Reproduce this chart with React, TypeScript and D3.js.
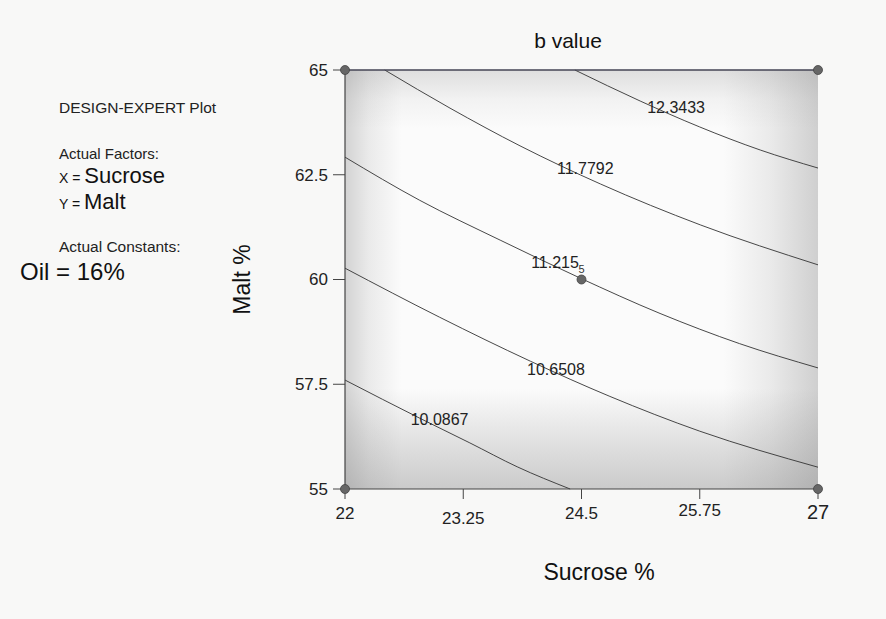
import React from "react";
import * as d3 from "d3";

// axis setup
const xDomain = [22, 27];
const yDomain = [55, 65];
const xTicks = [22, 23.25, 24.5, 25.75, 27];
const yTicks = [55, 57.5, 60, 62.5, 65];

// contour levels
const levels = ["12.3433", "11.7792", "11.215", "10.6508", "10.0867"];
const contour12_3433 = [[24.43, 65], [25.12, 64.26], [25.75, 63.64], [26.39, 63.09], [27, 62.66]];
const contour11_7792 = [[22.42, 65], [23.11, 64.09], [23.85, 63.19], [24.7, 62.28], [25.76, 61.3], [27, 60.35]];
const contour11_215 = [[22, 62.92], [22.79, 61.89], [23.64, 60.94], [24.48, 60.04], [25.33, 59.19], [26.17, 58.47], [27, 57.89]];
const contour10_6508 = [[22, 60.27], [23, 59.1], [23.96, 58.05], [24.8, 57.21], [25.75, 56.38], [27, 55.52]];
const contour10_0867 = [[22, 57.6], [22.79, 56.69], [23.32, 56.1], [23.82, 55.53], [24.38, 55]];
const contours = [contour12_3433, contour11_7792, contour11_215, contour10_6508, contour10_0867];
const labelPos = [[25.5, 64.1], [24.54, 62.66], [24.22, 60.41], [24.23, 57.86], [23, 56.65]];

// design points
const designPts = [[22, 65], [27, 65], [22, 55], [27, 55], [24.5, 60]];
const centerReps = "5";

const W = 886, H = 619;
const m = { left: 345, right: 818, top: 70, bottom: 489 };

export default function App() {
  const x = d3.scaleLinear().domain(xDomain).range([m.left, m.right]);
  const y = d3.scaleLinear().domain(yDomain).range([m.bottom, m.top]);
  const line = d3.line<number[]>().x(d => x(d[0])).y(d => y(d[1])).curve(d3.curveMonotoneX);
  const font = "Arial, 'Liberation Sans', sans-serif";
  const pw = m.right - m.left, ph = m.bottom - m.top;

  return (
    <svg width={W} height={H} style={{ position: "absolute", left: 0, top: 0, background: "#f8f8f7" }} fontFamily={font}>
      <defs>
        <linearGradient id="gh" x1="0" x2="1" y1="0" y2="0">
          <stop offset="0" stopColor="#888" stopOpacity="0.35" />
          <stop offset="0.05" stopColor="#888" stopOpacity="0.15" />
          <stop offset="0.12" stopColor="#888" stopOpacity="0" />
          <stop offset="0.8" stopColor="#888" stopOpacity="0" />
          <stop offset="0.9" stopColor="#888" stopOpacity="0.15" />
          <stop offset="1" stopColor="#888" stopOpacity="0.38" />
        </linearGradient>
        <linearGradient id="gv" x1="0" x2="0" y1="0" y2="1">
          <stop offset="0" stopColor="#888" stopOpacity="0.25" />
          <stop offset="0.07" stopColor="#888" stopOpacity="0.08" />
          <stop offset="0.14" stopColor="#888" stopOpacity="0" />
          <stop offset="0.76" stopColor="#888" stopOpacity="0" />
          <stop offset="0.86" stopColor="#888" stopOpacity="0.18" />
          <stop offset="1" stopColor="#888" stopOpacity="0.42" />
        </linearGradient>
      </defs>

      {/* legend text */}
      <text x={59} y={113} fontSize={15.5} fill="#222">DESIGN-EXPERT Plot</text>
      <text x={59} y={159} fontSize={15} fill="#222">Actual Factors:</text>
      <text x={59} y={183} fill="#111"><tspan fontSize={14}>X = </tspan><tspan fontSize={22}>Sucrose</tspan></text>
      <text x={59} y={209} fill="#111"><tspan fontSize={14}>Y = </tspan><tspan fontSize={22}>Malt</tspan></text>
      <text x={59} y={252} fontSize={15.5} fill="#222">Actual Constants:</text>
      <text x={20} y={280} fontSize={24} fill="#111">Oil = 16%</text>

      {/* plot background */}
      <rect x={m.left} y={m.top} width={pw} height={ph} fill="#fbfbfb" />
      <rect x={m.left} y={m.top} width={pw} height={ph} fill="url(#gh)" />
      <rect x={m.left} y={m.top} width={pw} height={ph} fill="url(#gv)" />

      {/* contours */}
      {contours.map((c, i) => (
        <path key={i} d={line(c) || ""} fill="none" stroke="#333" strokeWidth={0.9} />
      ))}
      {levels.map((lv, i) => (
        <text key={lv} x={x(labelPos[i][0])} y={y(labelPos[i][1])} dy="0.35em" textAnchor="middle" fontSize={16} fill="#222">{lv}</text>
      ))}

      {/* axes */}
      <line x1={m.left} x2={m.right} y1={m.top} y2={m.top} stroke="#445" strokeWidth={1.3} />
      <line x1={m.left} x2={m.left} y1={m.top} y2={m.bottom} stroke="#444" strokeWidth={1.2} />
      <line x1={m.left} x2={m.right} y1={m.bottom} y2={m.bottom} stroke="#444" strokeWidth={1.2} />
      {yTicks.map(t => (
        <g key={t}>
          <line x1={m.left - 12} x2={m.left} y1={y(t)} y2={y(t)} stroke="#444" />
          <text x={m.left - 17} y={y(t)} dy="0.35em" textAnchor="end" fontSize={17} fill="#222">{t}</text>
        </g>
      ))}
      {xTicks.map((t, i) => (
        <g key={t}>
          <line x1={x(t)} x2={x(t)} y1={m.bottom} y2={m.bottom + 10} stroke="#444" />
          <text x={x(t)} y={m.bottom + 30 + (i === 1 ? 5 : i === 3 ? -3 : 0)} textAnchor="middle" fontSize={i === 4 ? 20 : 17} fill="#222">{t}</text>
        </g>
      ))}

      {/* design points */}
      {designPts.map((p, i) => (
        <circle key={i} cx={x(p[0])} cy={y(p[1])} r={4.5} fill="#666" stroke="#444" strokeWidth={0.8} />
      ))}
      <text x={x(24.5)} y={y(60) - 7} textAnchor="middle" fontSize={11} fill="#333">{centerReps}</text>

      {/* titles */}
      <text x={568} y={48} textAnchor="middle" fontSize={21} fill="#111">b value</text>
      <text x={599} y={580} textAnchor="middle" fontSize={23} fill="#111">Sucrose %</text>
      <text transform={`translate(250,${y(60)}) rotate(-90)`} textAnchor="middle" fontSize={23} fill="#111">Malt %</text>
    </svg>
  );
}
